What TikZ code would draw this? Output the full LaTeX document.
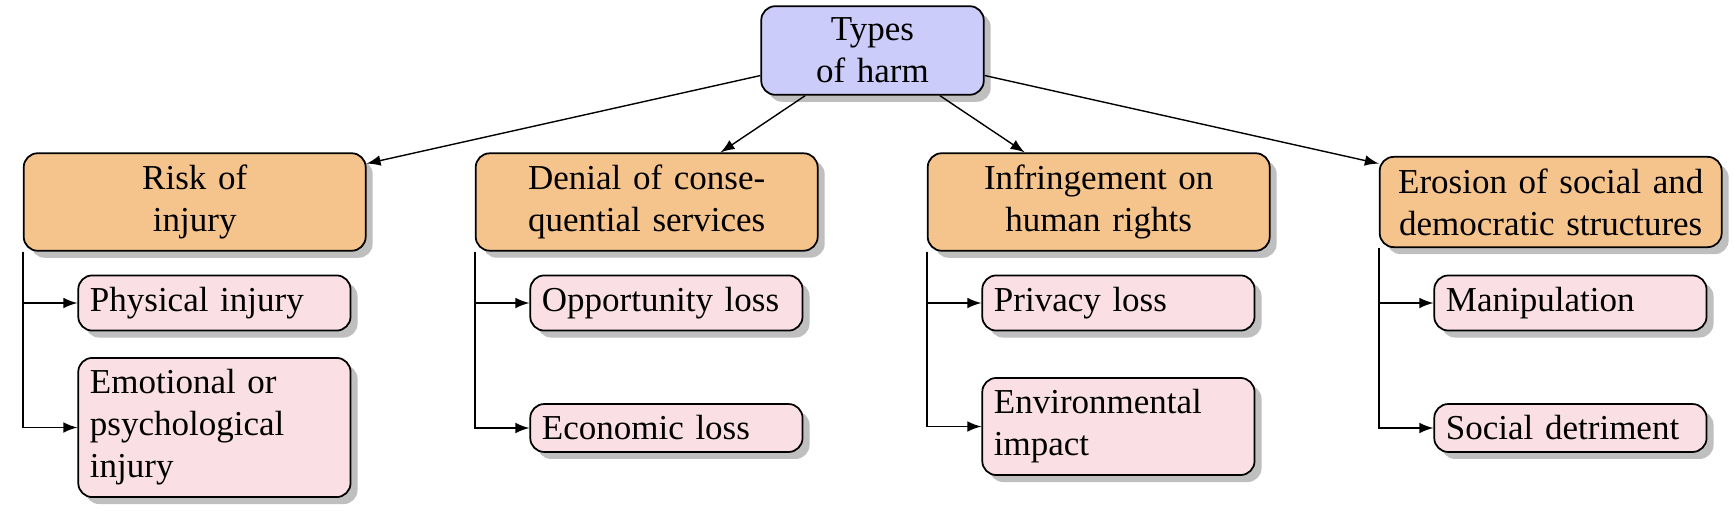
\documentclass[tikz,border=0pt]{standalone}
\usepackage{fontspec}
\setmainfont{Liberation Serif}
\usetikzlibrary{shadows,arrows}
\definecolor{rootfill}{RGB}{204,204,250}
\definecolor{catfill}{RGB}{245,195,140}
\definecolor{leaffill}{RGB}{250,224,228}
\tikzset{
  box/.style={draw=black, line width=0.5pt, rounded corners=4pt, inner sep=3.33pt,
    drop shadow={shadow xshift=2pt, shadow yshift=-2pt, fill=black, opacity=0.25}},
  rootbox/.style={box, fill=rootfill, text width=2cm, align=center},
  catbox/.style={box, fill=catfill, text width=3.2cm, align=center},
  leafbox/.style={box, fill=leaffill, text width=2.5cm, align=left, anchor=west},
  conn/.style={-latex, line width=0.4pt},
}
\begin{document}
\begin{tikzpicture}[x=0.285714pt, y=-0.285714pt]
\useasboundingbox (0,0) rectangle (1734,518);
\node[rootbox] (root) at (872.5,50.5) {Types\\of harm};
\node[catbox] (c1) at (194.7,202) {Risk of\\injury};
\node[catbox] (c2) at (646.7,202) {Denial of conse-\\quential services};
\node[catbox] (c3) at (1098.7,202) {Infringement on\\human rights};
\node[catbox] (c4) at (1550.7,202) {Erosion of social and\\democratic structures};
\node[leafbox] (l11) at (77.4,303) {Physical injury};
\node[leafbox] (l12) at (77.4,427.5) {Emotional or\\psychological\\injury};
\node[leafbox] (l21) at (529.4,303) {Opportunity loss};
\node[leafbox] (l22) at (529.4,428) {Economic loss};
\node[leafbox] (l31) at (981.4,303) {Privacy loss};
\node[leafbox] (l32) at (981.4,426.5) {Environmental\\impact};
\node[leafbox] (l41) at (1433.4,303) {Manipulation};
\node[leafbox] (l42) at (1433.4,428) {Social detriment};
\foreach \c in {c1,c2,c3,c4} \draw[conn] (root) -- (\c);
\draw[conn] (c1.south west) |- (l11.west);
\draw[conn] (c1.south west) |- (l12.west);
\draw[conn] (c2.south west) |- (l21.west);
\draw[conn] (c2.south west) |- (l22.west);
\draw[conn] (c3.south west) |- (l31.west);
\draw[conn] (c3.south west) |- (l32.west);
\draw[conn] (c4.south west) |- (l41.west);
\draw[conn] (c4.south west) |- (l42.west);
\end{tikzpicture}
\end{document}
